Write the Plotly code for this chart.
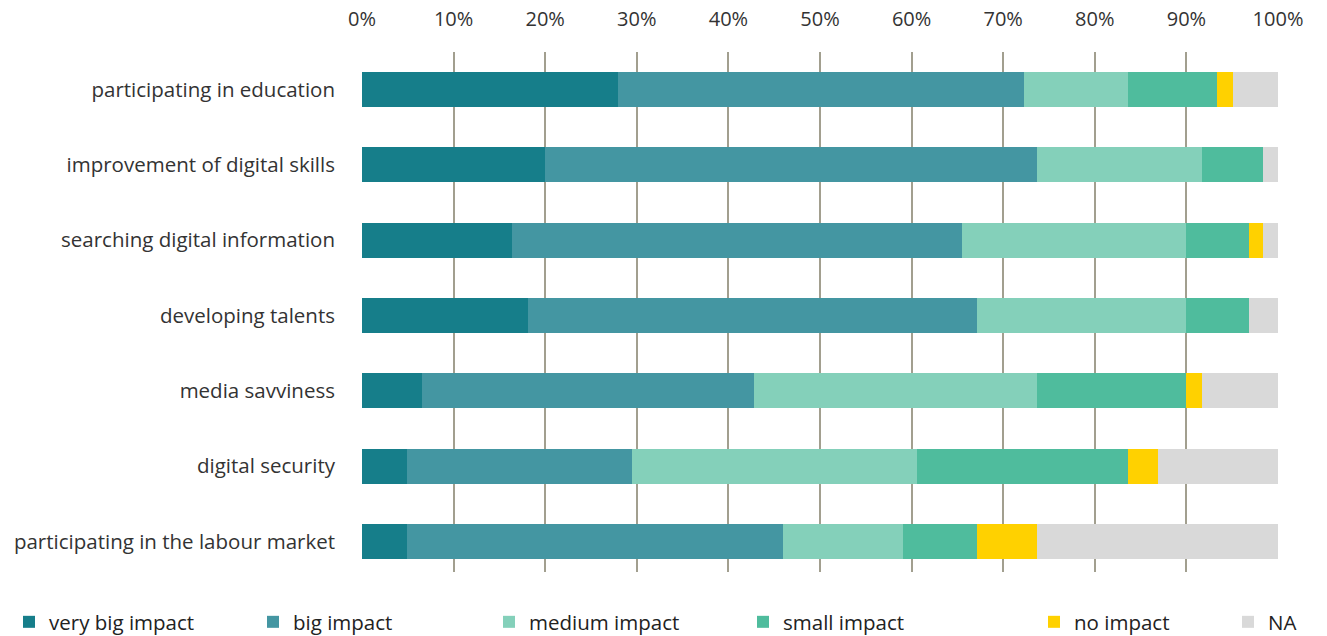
import plotly.graph_objects as go

categories = [
    "participating in education",
    "improvement of digital skills",
    "searching digital information",
    "developing talents",
    "media savviness",
    "digital security",
    "participating in the labour market",
]
series_names = ["very big impact", "big impact", "medium impact", "small impact", "no impact", "NA"]
very_big = [28.0, 20.0, 16.4, 18.1, 6.6, 4.9, 4.9]
big = [44.3, 53.7, 49.1, 49.0, 36.2, 24.6, 41.1]
medium = [11.3, 18.0, 24.5, 22.9, 30.9, 31.1, 13.1]
small = [9.7, 6.7, 6.8, 6.8, 16.3, 23.0, 8.0]
no_impact = [1.8, 0.0, 1.6, 0.0, 1.7, 3.3, 6.6]
na = [4.9, 1.6, 1.6, 3.2, 8.3, 13.1, 26.3]
tick_vals = [0, 10, 20, 30, 40, 50, 60, 70, 80, 90, 100]
tick_text = ["0%", "10%", "20%", "30%", "40%", "50%", "60%", "70%", "80%", "90%", "100%"]

colors = ["#167E8A", "#4496A2", "#84D0BA", "#4FBC9D", "#FFD100", "#D9D9D9"]
values = [very_big, big, medium, small, no_impact, na]

W, H = 1327, 636
L, R, T, B = 362, 49, 52, 64

# legend square centre positions in pixels (layout only)
legend_cx = [28, 272, 508, 762, 1053, 1247]

FONT = "Open Sans"
fig = go.Figure()
for i, (name, vals, col) in enumerate(zip(series_names, values, colors)):
    lg = "legend" if i == 0 else f"legend{i+1}"
    fig.add_trace(go.Bar(
        y=categories, x=vals, name=name, orientation="h",
        marker=dict(color=col, line=dict(width=0)),
        width=0.465, legend=lg,
    ))

layout_legends = {}
for i, cx in enumerate(legend_cx):
    key = "legend" if i == 0 else f"legend{i+1}"
    layout_legends[key] = dict(
        xref="container", yref="container",
        x=(cx - 19) / W, xanchor="left",
        y=1 - 622 / H, yanchor="middle",
        orientation="h", bgcolor="rgba(0,0,0,0)",
        font=dict(family=FONT, size=20.5, color="#222222"),
    )

fig.update_layout(
    width=W, height=H, barmode="stack",
    margin=dict(l=L, r=R, t=T, b=B, pad=0, autoexpand=False),
    paper_bgcolor="white", plot_bgcolor="white",
    showlegend=True,
    font=dict(family=FONT, color="#333333"),
    **layout_legends,
)
fig.update_xaxes(
    range=[0, 100], side="top", tickvals=tick_vals, ticktext=tick_text,
    showgrid=True, gridcolor="#A29F8F", gridwidth=1.5,
    zeroline=False, showline=False, layer="above traces",
    tickfont=dict(family=FONT, size=20, color="#333333"),
    ticklabelstandoff=21, fixedrange=True, automargin=False,
)
fig.update_yaxes(
    categoryorder="array", categoryarray=categories,
    range=[6.405, -0.498], showgrid=False, zeroline=False, showline=False,
    tickfont=dict(family=FONT, size=20.5, color="#333333"),
    ticklabelstandoff=26, fixedrange=True, automargin=False,
)
fig.write_html("out.html")
